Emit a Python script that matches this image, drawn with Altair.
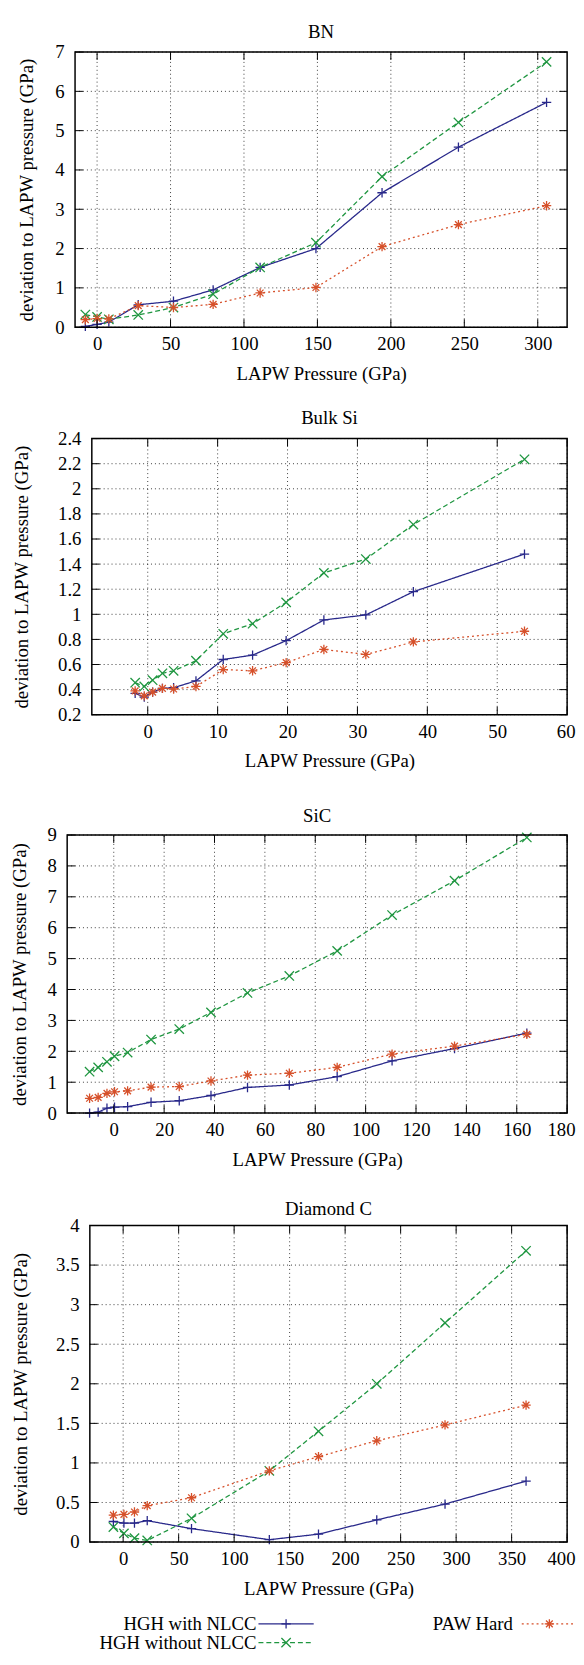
import altair as alt
import pandas as pd

FONT = "Liberation Serif"
SERIES = ["HGH with NLCC", "HGH without NLCC", "PAW Hard"]
COLORS = ["#28288a", "#1f9640", "#d6502a"]
DASHES = [[1, 0], [5, 3], [2, 3]]
SHAPES = [
    "M-1,0L1,0M0,-1L0,1",
    "M-1,-1L1,1M-1,1L1,-1",
    "M-1,0L1,0M0,-1L0,1M-0.72,-0.72L0.72,0.72M-0.72,0.72L0.72,-0.72",
]

# ---------------- data ----------------
bn_x = [-8, 0, 8, 28, 52, 79, 111, 149, 194, 246, 306]
bn_with = [0.02, 0.07, 0.13, 0.57, 0.66, 0.95, 1.52, 2.0, 3.42, 4.58, 5.72]
bn_without = [0.32, 0.26, 0.20, 0.31, 0.50, 0.84, 1.52, 2.15, 3.83, 5.21, 6.75]
bn_paw = [0.19, 0.22, 0.21, 0.55, 0.50, 0.58, 0.87, 1.01, 2.05, 2.61, 3.09]

si_x = [-1.8, -0.5, 0.7, 2.1, 3.7, 6.9, 10.8, 15.0, 19.8, 25.2, 31.2, 38.0, 53.9]
si_with = [0.37, 0.34, 0.38, 0.41, 0.415, 0.47, 0.64, 0.675, 0.79, 0.955, 0.995, 1.18, 1.48]
si_without = [0.455, 0.425, 0.475, 0.53, 0.55, 0.63, 0.845, 0.925, 1.095, 1.33, 1.44, 1.715, 2.235]
si_paw = [0.39, 0.35, 0.38, 0.41, 0.405, 0.425, 0.56, 0.55, 0.615, 0.72, 0.68, 0.78, 0.865]

sic_x = [-9.6, -6.2, -2.7, 0.3, 5.5, 14.8, 26.0, 38.6, 53.1, 69.7, 88.7, 110.5, 135.3, 164.0]
sic_with = [0.0, 0.03, 0.16, 0.19, 0.21, 0.35, 0.40, 0.57, 0.83, 0.91, 1.18, 1.69, 2.09, 2.59]
sic_without = [1.34, 1.48, 1.66, 1.84, 1.96, 2.38, 2.72, 3.26, 3.89, 4.44, 5.25, 6.41, 7.52, 8.92]
sic_paw = [0.48, 0.51, 0.64, 0.69, 0.72, 0.84, 0.86, 1.04, 1.23, 1.29, 1.48, 1.91, 2.17, 2.55]

dc_x = [-8.8, 0.7, 10.2, 21.7, 61.6, 131.7, 176, 228.5, 290, 363]
dc_with = [0.26, 0.24, 0.24, 0.27, 0.17, 0.03, 0.10, 0.28, 0.48, 0.77]
dc_without = [0.19, 0.11, 0.05, 0.02, 0.30, 0.90, 1.40, 2.0, 2.77, 3.68]
dc_paw = [0.34, 0.35, 0.38, 0.46, 0.56, 0.90, 1.08, 1.28, 1.48, 1.73]

bn_xticks = [0, 50, 100, 150, 200, 250, 300]
bn_yticks = [0, 1, 2, 3, 4, 5, 6, 7]
si_xticks = [0, 10, 20, 30, 40, 50, 60]
si_yticks = [0.2, 0.4, 0.6, 0.8, 1, 1.2, 1.4, 1.6, 1.8, 2, 2.2, 2.4]
sic_xticks = [0, 20, 40, 60, 80, 100, 120, 140, 160, 180]
sic_yticks = [0, 1, 2, 3, 4, 5, 6, 7, 8, 9]
dc_xticks = [0, 50, 100, 150, 200, 250, 300, 350, 400]
dc_yticks = [0, 0.5, 1, 1.5, 2, 2.5, 3, 3.5, 4]

XTITLE = "LAPW Pressure (GPa)"
YTITLE = "deviation to LAPW pressure (GPa)"
W, H = 576, 1657
TICK = 8


def panel(title, tdy, x, s1, s2, s3, xdom, ydom, xr, yr, xticks, yticks, yext):
    n = len(x)
    df = pd.DataFrame({
        "x": x * 3,
        "y": s1 + s2 + s3,
        "s": [SERIES[0]] * n + [SERIES[1]] * n + [SERIES[2]] * n,
    })
    xs = alt.Scale(domain=xdom, range=xr, nice=False, zero=False)
    ys = alt.Scale(domain=ydom, range=yr, nice=False, zero=False)
    xax = alt.Axis(values=xticks, title=XTITLE, orient="bottom", offset=yr[0] - H,
                   grid=False, ticks=False, domain=False, labelPadding=8,
                   minExtent=27, maxExtent=27, titlePadding=11,
                   labelFlush=True, labelFlushOffset=8)
    yax = alt.Axis(values=yticks, format="~g", title=YTITLE, orient="left",
                   offset=-xr[0], grid=False, ticks=False, domain=False,
                   labelPadding=11, minExtent=yext, maxExtent=yext, titlePadding=14)
    X = alt.X("x:Q", scale=xs, axis=xax)
    Y = alt.Y("y:Q", scale=ys, axis=yax)

    def XD(v):
        return alt.XDatum(v, type="quantitative", scale=xs, axis=xax)

    def YD(v):
        return alt.YDatum(v, type="quantitative", scale=ys, axis=yax)

    color = alt.Color("s:N", scale=alt.Scale(domain=SERIES, range=COLORS), legend=None)
    xdf = pd.DataFrame({"x": xticks})
    ydf = pd.DataFrame({"y": yticks})
    one = pd.DataFrame({"t": [title]})
    grid = dict(color="black", strokeWidth=0.9, strokeDash=[1, 3], opacity=0.85)
    rule = dict(color="black", strokeWidth=1)

    gx = alt.Chart(xdf).mark_rule(**grid).encode(x=X, y=YD(ydom[0]), y2=alt.Y2Datum(ydom[1]))
    gy = alt.Chart(ydf).mark_rule(**grid).encode(y=Y, x=XD(xdom[0]), x2=alt.X2Datum(xdom[1]))
    lines = alt.Chart(df).mark_line(strokeWidth=1.3).encode(
        x=X, y=Y, color=color,
        strokeDash=alt.StrokeDash("s:N", scale=alt.Scale(domain=SERIES, range=DASHES), legend=None),
    )
    points = alt.Chart(df).mark_point(filled=False, strokeWidth=1.3, size=90, opacity=1).encode(
        x=X, y=Y, color=color,
        shape=alt.Shape("s:N", scale=alt.Scale(domain=SERIES, range=SHAPES), legend=None),
    )
    frame = alt.Chart(one).mark_rect(filled=False, stroke="black", strokeWidth=1.5).encode(
        x=XD(xdom[0]), x2=alt.X2Datum(xdom[1]), y=YD(ydom[0]), y2=alt.Y2Datum(ydom[1]))
    tb = alt.Chart(xdf).mark_rule(y2Offset=-TICK, **rule).encode(
        x=X, y=YD(ydom[0]), y2=alt.Y2Datum(ydom[0]))
    tt = alt.Chart(xdf).mark_rule(y2Offset=TICK, **rule).encode(
        x=X, y=YD(ydom[1]), y2=alt.Y2Datum(ydom[1]))
    tl = alt.Chart(ydf).mark_rule(x2Offset=TICK, **rule).encode(
        y=Y, x=XD(xdom[0]), x2=alt.X2Datum(xdom[0]))
    tr = alt.Chart(ydf).mark_rule(x2Offset=-TICK, **rule).encode(
        y=Y, x=XD(xdom[1]), x2=alt.X2Datum(xdom[1]))
    ttl = alt.Chart(one).mark_text(
        baseline="alphabetic", align="center", dy=tdy, font=FONT, fontSize=19, color="black"
    ).encode(text="t:N", x=XD((xdom[0] + xdom[1]) / 2), y=YD(ydom[1]))
    return alt.layer(gx, gy, lines, points, frame, tb, tt, tl, tr, ttl)


p1 = panel("BN", -14, bn_x, bn_with, bn_without, bn_paw, [-15, 320], [0, 7],
           [68, 567], [312, 33], bn_xticks, bn_yticks, 25)
p2 = panel("Bulk Si", -15, si_x, si_with, si_without, si_paw, [-8, 60], [0.2, 2.4],
           [85, 567], [705, 425], si_xticks, si_yticks, 47)
p3 = panel("SiC", -13, sic_x, sic_with, sic_without, sic_paw, [-18.5, 180], [0, 9],
           [60, 567], [1109, 827], sic_xticks, sic_yticks, 24)
p4 = panel("Diamond C", -11, dc_x, dc_with, dc_without, dc_paw, [-30, 400], [0, 4],
           [83, 567], [1544, 1223], dc_xticks, dc_yticks, 46)

# ---------------- legend (gnuplot style: label, then sample) ----------------
leg = []
one = pd.DataFrame({"a": [0]})
rows = [
    (SERIES[0], 252, 254, 310, 282, 1627, COLORS[0], DASHES[0], SHAPES[0]),
    (SERIES[1], 252, 254, 310, 282, 1646, COLORS[1], DASHES[1], SHAPES[1]),
    (SERIES[2], 512, 521, 577, 549, 1627, COLORS[2], DASHES[2], SHAPES[2]),
]
for lab, tx, x1, x2, xm, yy, c, d, shp in rows:
    leg.append(alt.Chart(pd.DataFrame({"t": [lab]})).mark_text(
        align="right", baseline="middle", font=FONT, fontSize=19, color="black"
    ).encode(text="t:N", x=alt.value(tx), y=alt.value(yy)))
    leg.append(alt.Chart(one).mark_rule(color=c, strokeWidth=1.3, strokeDash=d).encode(
        x=alt.value(x1), x2=alt.value(x2), y=alt.value(yy)))
    leg.append(alt.Chart(one).mark_point(
        shape=shp, filled=False, color=c, strokeWidth=1.3, size=90, opacity=1
    ).encode(x=alt.value(xm), y=alt.value(yy)))

chart = alt.layer(p1, p2, p3, p4, *leg).resolve_scale(
    x="independent", y="independent"
).resolve_axis(
    x="independent", y="independent"
).properties(
    width=W, height=H,
    autosize=alt.AutoSizeParams(type="none"),
    padding={"left": 0, "top": 0, "right": 0, "bottom": 0},
).configure_view(
    strokeWidth=0
).configure_axis(
    labelFont=FONT, titleFont=FONT, labelFontSize=19, titleFontSize=19,
    labelColor="black", titleColor="black", titleFontWeight="normal",
)

chart.save("out.html", embed_options={"renderer": "svg", "actions": False})
